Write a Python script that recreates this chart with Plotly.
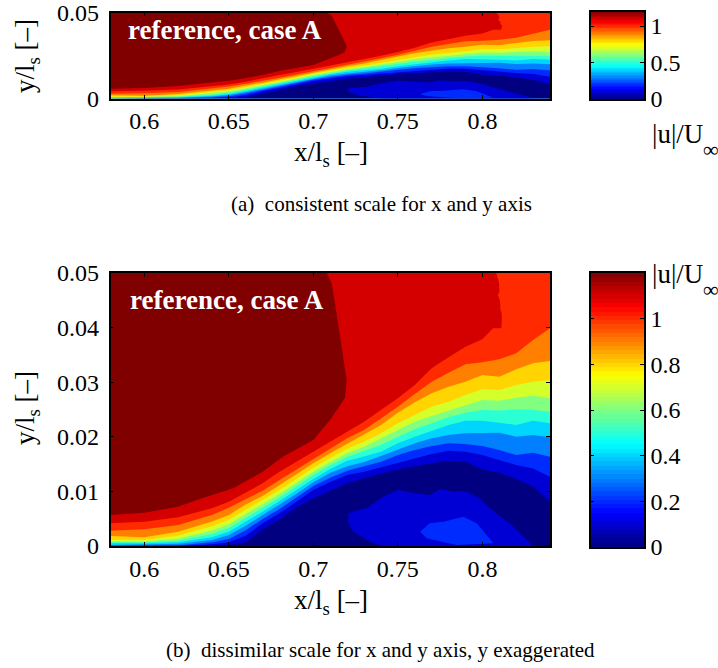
import plotly.graph_objects as go

W, H = 718, 668
FONT = "Liberation Serif"

x_ticks = [0.6, 0.65, 0.7, 0.75, 0.8]
x_labels = ["0.6", "0.65", "0.7", "0.75", "0.8"]
y_ticks_a = [0, 0.05]
y_labels_a = ["0", "0.05"]
y_ticks_b = [0, 0.01, 0.02, 0.03, 0.04, 0.05]
y_labels_b = ["0", "0.01", "0.02", "0.03", "0.04", "0.05"]
bar_ticks_a = [0, 0.5, 1]
bar_labels_a = ["0", "0.5", "1"]
bar_ticks_b = [0, 0.2, 0.4, 0.6, 0.8, 1]
bar_labels_b = ["0", "0.2", "0.4", "0.6", "0.8", "1"]

levels = [0, 0.1, 0.2, 0.3, 0.4, 0.5, 0.6, 0.7, 0.8, 0.9, 1.0, 1.1, 1.2]
U_MAX = 1.2

# x stations of the iso-velocity curves
stations = [0.58, 0.60, 0.62, 0.64, 0.65, 0.66, 0.67, 0.68, 0.69, 0.70, 0.71, 0.72,
            0.73, 0.74, 0.75, 0.76, 0.77, 0.78, 0.79, 0.80, 0.81, 0.82, 0.83, 0.84]

# heights of the iso-velocity curves at the stations, in 1e-3 y/l_s
u10 = [0, 0, 0, 0.06, 0.19, 0.7, 3.0, 4.89, 7.08, 8.73, 10.1, 11.48, 12.4, 13.3, 14.04, 14.65, 15.14, 15.63, 15.44, 14.0, 13.4, 12.3, 10.9, 8.1]
u20 = [0, 0, 0, 0.3, 0.7, 1.9, 4.15, 5.99, 8.12, 10.26, 11.7, 13.0, 13.6, 14.41, 15.26, 16.06, 16.85, 17.46, 17.27, 16.67, 15.75, 14.83, 14.2, 12.7]
u30 = [0.06, 0.12, 0.12, 0.7, 1.3, 2.9, 4.95, 6.78, 8.86, 11.0, 12.5, 13.8, 14.6, 15.44, 16.67, 17.58, 18.3, 18.8, 18.68, 18.3, 17.58, 16.67, 17.09, 16.36]
u40 = [0.18, 0.3, 0.43, 1.1, 2.0, 3.7, 5.62, 7.51, 9.59, 11.66, 13.4, 14.6, 15.4, 16.48, 17.71, 18.8, 19.72, 20.33, 20.63, 20.63, 20.76, 20.0, 20.33, 19.9]
u50 = [0.49, 0.5, 0.67, 1.6, 2.6, 4.4, 6.29, 8.24, 10.26, 12.27, 14.1, 15.6, 16.4, 17.28, 18.8, 20.02, 21.06, 22.16, 22.95, 22.95, 22.59, 22.16, 22.95, 22.47]
u60 = [0.67, 0.67, 0.98, 2.2, 3.3, 5.1, 6.96, 8.86, 10.93, 13.0, 14.8, 16.3, 17.4, 18.5, 20.02, 21.37, 22.47, 23.56, 24.42, 24.9, 24.8, 25.03, 24.9, 24.6]
u70 = [0.85, 0.85, 1.34, 2.85, 4.0, 5.8, 7.57, 9.53, 11.54, 13.62, 15.4, 17.0, 18.2, 19.72, 21.25, 22.77, 23.81, 24.79, 25.82, 26.74, 26.6, 27.17, 27.53, 27.04]
u80 = [1.1, 1.1, 1.9, 3.6, 4.8, 6.6, 8.37, 10.26, 12.27, 14.35, 16.1, 17.8, 19.11, 20.63, 22.47, 23.99, 25.52, 26.43, 27.65, 28.69, 28.57, 29.49, 30.1, 30.4]
u90 = [1.83, 1.59, 2.63, 4.5, 5.7, 7.6, 9.16, 11.18, 13.13, 15.14, 17.0, 18.7, 20.33, 22.16, 24.42, 26.31, 27.96, 29.18, 30.1, 31.3, 31.0, 32.36, 33.46, 33.88]
u100 = [2.81, 3.05, 3.85, 5.7, 7.0, 8.6, 10.14, 12.09, 13.98, 15.88, 17.8, 19.72, 21.25, 23.38, 25.5, 27.84, 30.1, 31.75, 33.27, 33.64, 34.19, 35.29, 37.73, 39.9]

# curves that are not single valued in x: (x, 1e-3 y/l_s)
u110_x = [0.58, 0.60, 0.62, 0.64, 0.65, 0.66, 0.67, 0.68, 0.69, 0.70, 0.71, 0.72, 0.73, 0.74, 0.75, 0.76, 0.77, 0.78, 0.79, 0.80, 0.8063, 0.8112, 0.8116, 0.8108, 0.8092, 0.8100, 0.8143, 0.8143, 0.8108, 0.8098, 0.8082, 0.84, 0.84, 0.58]
u110_y = [4.15, 4.46, 5.25, 6.9, 8.12, 9.77, 11.48, 13.62, 15.45, 17.28, 19.1, 20.94, 22.77, 24.9, 27.04, 29.49, 32.54, 34.55, 36.5, 37.85, 39.9, 39.9, 42.0, 44.5, 46.0, 46.5, 44.0, 43.0, 43.0, 48.2, 50.0, 50.0, 0, 0]
u120_x = [0.58, 0.60, 0.62, 0.6329, 0.6526, 0.67, 0.682, 0.70, 0.7099, 0.7148, 0.7187, 0.7197, 0.7177, 0.7148, 0.7128, 0.7108, 0.7079, 0.84, 0.84, 0.58]
u120_y = [5.68, 6.1, 7.2, 8.61, 10.56, 13.62, 16.36, 19.42, 23.08, 25.2, 27.1, 30.4, 34.7, 40.2, 44.5, 48.2, 50.0, 50.0, 0, 0]

# closed islands of higher velocity inside the recirculation zone
island10_x = [0.7207, 0.7257, 0.7315, 0.7355, 0.7414, 0.7502, 0.7601, 0.7689, 0.7749, 0.7828, 0.7907, 0.7986, 0.8035, 0.8104, 0.8163, 0.8242, 0.8291, 0.8282, 0.7414, 0.7355, 0.7236, 0.7207]
island10_y = [5.99, 6.48, 6.9, 7.8, 9.05, 10.3, 9.65, 9.35, 10.4, 9.96, 9.96, 8.7, 7.2, 5.4, 4.16, 1.71, 0.37, 0, 0, 0.49, 2.63, 4.16]
island20_x = [0.7631, 0.7689, 0.7769, 0.7887, 0.7966, 0.8025, 0.8065, 0.7848, 0.767]
island20_y = [2.63, 4.16, 4.46, 5.38, 4.16, 2.0, 0.49, 0.18, 1.4]

bar_steps = [(i + 0.5) * U_MAX / 64 for i in range(64)]
bar_text = "|u|/U"
bar_sub = "∞"
axis_x_text = "x/l<sub>s</sub> [–]"
axis_y_text = "y/l<sub>s</sub> [–]"
label_text = "reference, case A"
caption_a = "(a)  consistent scale for x and y axis"
caption_b = "(b)  dissimilar scale for x and y axis, y exaggerated"


def jet(t):
    stops = [(0, (0, 0, .5)), (.125, (0, 0, 1)), (.375, (0, 1, 1)),
             (.625, (1, 1, 0)), (.875, (1, 0, 0)), (1, (.5, 0, 0))]
    for (a, ca), (b, cb) in zip(stops, stops[1:]):
        if t <= b:
            f = (t - a) / (b - a)
            return "rgb(%d,%d,%d)" % tuple(round(255 * (p + f * (q - p))) for p, q in zip(ca, cb))
    return "rgb(128,0,0)"


jet_scale = [[i / 64, jet(i / 64)] for i in range(65)]
band = [jet(v / U_MAX) for v in levels]


def px_x(p):
    return p / W


def px_y(p):
    return 1 - p / H


fig = go.Figure()


def add_patch(xs, ys, color, ax):
    fig.add_trace(go.Scatter(x=xs, y=[v * 1e-3 for v in ys], mode="lines", fill="toself",
                             fillcolor=color, line=dict(width=0), hoverinfo="skip",
                             showlegend=False, xaxis=f"x{ax}", yaxis=f"y{ax}"))


curves = [u100, u90, u80, u70, u60, u50, u40, u30, u20, u10]
curve_colors = [band[9], band[8], band[7], band[6], band[5], band[4], band[3], band[2], band[1], band[0]]

for ax in ("", "2"):
    add_patch([0.58, 0.84, 0.84, 0.58], [0, 0, 50, 50], band[12], ax)
    add_patch(u120_x, u120_y, band[11], ax)
    add_patch(u110_x, u110_y, band[10], ax)
    for c, col in zip(curves, curve_colors):
        add_patch(stations + [0.84, 0.58], c + [0, 0], col, ax)
    add_patch(island10_x, island10_y, band[1], ax)
    add_patch(island20_x, island20_y, band[2], ax)

for ax in ("3", "4"):
    fig.add_trace(go.Heatmap(x=[0, 1], y=bar_steps, z=[[v, v] for v in bar_steps],
                             colorscale=jet_scale, zmin=0, zmax=U_MAX, showscale=False,
                             hoverinfo="skip", xaxis=f"x{ax}", yaxis=f"y{ax}"))

base = dict(showline=True, linecolor="black", linewidth=1.5, mirror="ticks", ticks="inside",
            ticklen=4, tickwidth=1, tickcolor="black", showgrid=False, zeroline=False,
            ticklabeloverflow="allow",
            tickfont=dict(family=FONT, size=24, color="black"))

PX0, PX1 = 110.5, 550
AT, AB = 12.5, 98.5
BT, BB = 273, 546
CX0, CX1 = 590.5, 644

fig.update_layout(
    width=W, height=H, margin=dict(l=0, r=0, t=0, b=0, autoexpand=False), paper_bgcolor="white", plot_bgcolor="white",
    font=dict(family=FONT, color="black"), showlegend=False,
    xaxis=dict(base, domain=[px_x(PX0), px_x(PX1)], range=[0.58, 0.84], tickvals=x_ticks, ticktext=x_labels, anchor="y"),
    yaxis=dict(base, domain=[px_y(AB), px_y(AT)], range=[0, 0.05], tickvals=y_ticks_a, ticktext=y_labels_a, anchor="x", ticklabelstandoff=5),
    xaxis2=dict(base, domain=[px_x(PX0), px_x(PX1)], range=[0.58, 0.84], tickvals=x_ticks, ticktext=x_labels, anchor="y2"),
    yaxis2=dict(base, domain=[px_y(BB), px_y(BT)], range=[0, 0.05], tickvals=y_ticks_b, ticktext=y_labels_b, anchor="x2", ticklabelstandoff=5),
    xaxis3=dict(base, domain=[px_x(CX0), px_x(CX1)], range=[0, 1], tickvals=[], anchor="y3"),
    yaxis3=dict(base, domain=[px_y(99), px_y(11.5)], range=[0, U_MAX], tickvals=bar_ticks_a, ticktext=bar_labels_a, side="right", anchor="x3"),
    xaxis4=dict(base, domain=[px_x(CX0), px_x(CX1)], range=[0, 1], tickvals=[], anchor="y4"),
    yaxis4=dict(base, domain=[px_y(547), px_y(273)], range=[0, U_MAX], tickvals=bar_ticks_b, ticktext=bar_labels_b, side="right", anchor="x4"),
)


def note(text, px, py, size, color="black", bold=False, angle=0, anchor="center"):
    fig.add_annotation(text=f"<b>{text}</b>" if bold else text, x=px_x(px), y=px_y(py), xref="paper", yref="paper",
                       showarrow=False, textangle=angle, xanchor=anchor, yanchor="middle",
                       font=dict(family=FONT, size=size, color=color))


note(label_text, 126, 30, 27, "white", True, anchor="left")
note(label_text, 128, 300, 27, "white", True, anchor="left")
note(axis_x_text, 331, 154, 27)
note(axis_x_text, 331, 602, 27)
note(axis_y_text, 27, 56, 27, angle=-90)
note(axis_y_text, 27, 408, 27, angle=-90)
note(bar_text, 650, 134, 27, anchor="left")
note(bar_text, 650, 274, 27, anchor="left")
note(bar_sub, 701, 149, 22, anchor="left")
note(bar_sub, 701, 289, 22, anchor="left")
note(caption_a, 381, 204, 21)
note(caption_b, 380, 650, 21)

fig.write_html("out.html", config={"displayModeBar": False},
               post_script="document.body.style.margin='0';document.body.style.overflow='hidden';")
